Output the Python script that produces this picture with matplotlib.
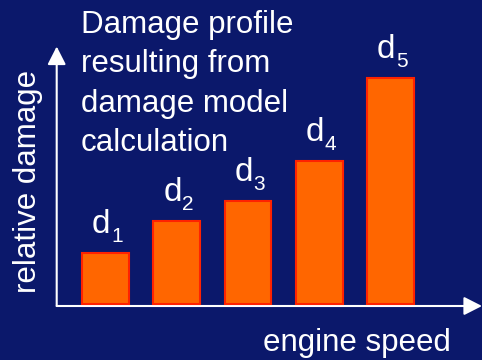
import numpy as np
import matplotlib
matplotlib.use('Agg')
import matplotlib.pyplot as plt

# relative damage per engine speed class
classes = ['1', '2', '3', '4', '5']
damage = [51, 83, 103, 143, 226]
title_lines = ['Damage profile', 'resulting from', 'damage model', 'calculation']

bg = '#0b186b'
plt.rcParams['font.family'] = ['Liberation Sans', 'DejaVu Sans']

W, H = 482, 360
fig = plt.figure(figsize=(W / 100.0, H / 100.0), dpi=100, facecolor=bg)

x0, y0 = 56.7, 306.0   # axis corner in pixels (from top left)
ax = fig.add_axes([x0 / W, (H - y0) / H, (W - x0) / W, (y0 - 46.5) / H])
ax.set_facecolor('none')
for s in ax.spines.values():
    s.set_visible(False)
ax.set_xticks([])
ax.set_yticks([])

pos = np.arange(1, len(damage) + 1)
ax.bar(pos, damage, width=0.655, color='#ff6600', edgecolor='#ff2200', linewidth=1.5, zorder=3)
ax.set_xlim(0.313, 0.313 + (W - x0) / 71.2)
ax.set_ylim(-2.5, (y0 - 46.5) - 2.5)

# bar labels d_i : letter plus subscript index
for p, v, c in zip(pos, damage, classes):
    ax.annotate('d', (p, v), xytext=(3.6, 14), textcoords='offset points',
                ha='right', va='baseline', color='white', fontsize=24)
    ax.annotate(c, (p, v), xytext=(3.8, 7.6), textcoords='offset points',
                ha='left', va='baseline', color='white', fontsize=15)

# axes with arrow heads
arrow = dict(arrowstyle='-|>,head_length=0.55,head_width=0.28', color='white', lw=1.5,
             shrinkA=0, shrinkB=0, mutation_scale=20)
ax.annotate('', xy=(1.0, 0), xytext=(0, 0), xycoords='axes fraction', arrowprops=arrow, zorder=2)
ax.annotate('', xy=(0, 1.0), xytext=(0, 0), xycoords='axes fraction', arrowprops=arrow, zorder=2)

fig.text(81 / W, 1 - 10 / H, '\n'.join(title_lines), ha='left', va='top', color='white',
         fontsize=22.5, linespacing=1.41)
fig.text(263 / W, 1 - 351.5 / H, 'engine speed', ha='left', va='baseline', color='white', fontsize=22.5)
fig.text(28 / W, 1 - 181 / H, 'relative damage', ha='center', va='center', rotation=90,
         color='white', fontsize=22.5)

fig.savefig('out.png', dpi=100, facecolor=bg)
